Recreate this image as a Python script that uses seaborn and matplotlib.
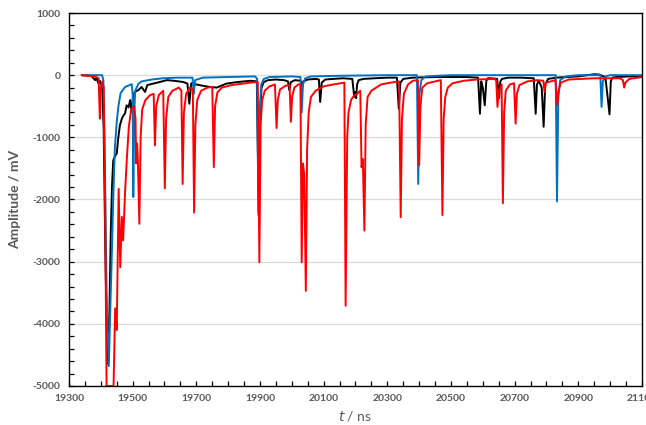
import matplotlib
matplotlib.use("Agg")
import matplotlib.pyplot as plt
import seaborn as sns
import pandas as pd
import numpy as np
from matplotlib.ticker import FixedLocator

# ---- data: (time ns, amplitude mV) ----
black_pts = [
    (19340, 0), (19370, -10), (19382, -80), (19386, -40), (19392, -130), (19397, -90),
    (19402, -160), (19405, -250), (19409, -900), (19414, -2800), (19419, -4200),
    (19423, -4650), (19427, -3800), (19431, -2600), (19435, -1800), (19439, -1370),
    (19445, -1300), (19450, -1260), (19455, -1000), (19460, -806), (19466, -700),
    (19471, -650), (19476, -615), (19481, -485), (19487, -520), (19492, -400),
    (19497, -590), (19502, -300), (19510, -260), (19518, -240), (19528, -190),
    (19539, -270), (19546, -160), (19565, -135), (19585, -110), (19607, -80),
    (19630, -90), (19659, -110), (19672, -135), (19678, -460), (19684, -130),
    (19700, -150), (19720, -170), (19743, -190), (19764, -200), (19795, -135),
    (19830, -110), (19870, -90), (19890, -100), (19896, -2200), (19900, -600),
    (19905, -200), (19912, -110), (19925, -80), (19950, -70), (19975, -80),
    (19988, -100), (19992, -240), (19997, -110), (20010, -80), (20028, -90),
    (20031, -250), (20036, -100), (20050, -70), (20075, -60), (20085, -70),
    (20089, -430), (20094, -120), (20105, -70), (20130, -60), (20160, -50),
    (20190, -60), (20196, -350), (20199, -270), (20202, -370), (20205, -150),
    (20210, -80), (20225, -60), (20260, -50), (20300, -40), (20330, -40),
    (20336, -540), (20341, -120), (20350, -60), (20380, -40), (20450, -30),
    (20550, -30), (20585, -40), (20591, -620), (20595, -100), (20600, -200),
    (20606, -485), (20611, -90), (20616, -50), (20625, -50), (20645, -60),
    (20651, -370), (20655, -100), (20660, -60), (20680, -40), (20720, -40),
    (20760, -50), (20766, -620), (20770, -150), (20776, -90), (20785, -200),
    (20791, -830), (20796, -150), (20805, -60), (20830, -40), (20900, -20),
    (20950, 15), (20965, 10), (20985, -30), (20998, -630), (21002, -100),
    (21007, -40), (21020, -30), (21060, -20), (21100, -20),
]

blue_pts = [
    (19340, 0), (19404, 0), (19408, -80), (19413, -1500), (19419, -3800),
    (19425, -4680), (19429, -3900), (19434, -2980), (19440, -1800), (19444, -1180),
    (19450, -750), (19455, -510), (19462, -290), (19476, -190), (19497, -145),
    (19500, -300), (19502, -1960), (19505, -600), (19508, -250), (19518, -140),
    (19528, -100), (19560, -70), (19595, -50), (19640, -40), (19688, -40),
    (19692, -300), (19696, -80), (19720, -40), (19800, -30), (19885, -20),
    (19891, -60), (19895, -2250), (19899, -600), (19904, -150), (19912, -60),
    (19930, -30), (20000, -20), (20027, -30), (20031, -600), (20035, -150),
    (20042, -50), (20060, -20), (20150, -10), (20300, 0), (20393, 0),
    (20397, -1750), (20401, -300), (20407, -80), (20420, -20), (20500, 0),
    (20700, 0), (20829, 0), (20833, -2030), (20837, -350), (20843, -80),
    (20860, -20), (20900, 0), (20969, 0), (20973, -510), (20977, -100),
    (20985, -20), (21000, 0), (21100, 0),
]

red_pts = [
    (19340, 0), (19380, -20), (19393, -50), (19397, -700), (19400, -200),
    (19405, -100), (19409, -200), (19413, -1800), (19418, -5000), (19440, -5000),
    (19445, -3750), (19450, -4100), (19453, -3000), (19456, -1830), (19461, -3090),
    (19466, -2280), (19470, -2660), (19476, -1900), (19482, -1320), (19488, -830),
    (19495, -560), (19505, -500), (19509, -700), (19511, -1420), (19514, -1100),
    (19516, -1300), (19521, -2390), (19525, -1000), (19530, -550), (19540, -400),
    (19555, -320), (19566, -300), (19570, -1130), (19574, -500), (19582, -320),
    (19596, -250), (19601, -1820), (19605, -700), (19612, -350), (19625, -250),
    (19645, -200), (19653, -250), (19657, -1750), (19661, -600), (19668, -300),
    (19680, -200), (19689, -220), (19693, -2210), (19697, -800), (19703, -400),
    (19715, -250), (19735, -200), (19750, -190), (19755, -1480), (19759, -500),
    (19766, -280), (19780, -200), (19810, -160), (19840, -140), (19870, -120),
    (19893, -110), (19898, -3010), (19902, -800), (19907, -400), (19915, -250),
    (19930, -180), (19947, -150), (19952, -850), (19956, -400), (19963, -230),
    (19980, -170), (19993, -160), (19997, -750), (20001, -350), (20008, -200),
    (20020, -150), (20027, -150), (20031, -3010), (20035, -1420), (20039, -1600),
    (20044, -3470), (20048, -1200), (20053, -600), (20060, -350), (20075, -250),
    (20100, -180), (20130, -150), (20165, -120), (20169, -3710), (20174, -1000),
    (20178, -600), (20186, -400), (20195, -330), (20205, -300), (20215, -250),
    (20219, -1480), (20223, -1350), (20228, -2500), (20232, -800), (20238, -350),
    (20250, -250), (20265, -200), (20280, -150), (20310, -120), (20337, -100),
    (20342, -2285), (20346, -700), (20352, -300), (20365, -150), (20380, -90),
    (20396, -80), (20400, -1450), (20404, -500), (20410, -200), (20425, -130),
    (20450, -100), (20468, -80), (20473, -2250), (20477, -700), (20482, -350),
    (20490, -200), (20505, -130), (20540, -90), (20580, -70), (20635, -60),
    (20642, -80), (20646, -510), (20650, -250), (20659, -150), (20663, -2060),
    (20667, -600), (20672, -250), (20685, -150), (20698, -130), (20703, -780),
    (20707, -300), (20715, -160), (20740, -100), (20770, -80), (20790, -90),
    (20794, -270), (20798, -120), (20828, -80), (20834, -480), (20838, -250),
    (20845, -120), (20870, -70), (20950, -50), (21030, -50), (21040, -80),
    (21044, -200), (21048, -120), (21060, -60), (21100, -30),
]

series_names = ["black", "blue", "red"]
series_colors = ["#000000", "#0070C0", "#FF0000"]
x_ticks = list(range(19300, 21101, 200))
y_ticks = list(range(-5000, 1001, 1000))

# ---- build table ----
frames = []
for name, pts in zip(series_names, [black_pts, blue_pts, red_pts]):
    d = pd.DataFrame(pts, columns=["t", "v"])
    d["series"] = name
    d["order"] = np.arange(len(d))
    frames.append(d)
df = pd.concat(frames, ignore_index=True)

sns.set_theme(style="white")
plt.rcParams["font.family"] = ["Lato", "DejaVu Sans"]
plt.rcParams["axes.unicode_minus"] = False

fig = plt.figure(figsize=(6.46, 4.25), dpi=100)
ax = fig.add_axes([0.1068, 0.0918, 0.8870, 0.8776])

for yv in y_ticks:
    ax.axhline(yv, color="#D9D9D9", lw=0.9, zorder=0)

sns.lineplot(data=df, x="t", y="v", hue="series", hue_order=series_names,
             palette=dict(zip(series_names, series_colors)), sort=False,
             estimator=None, units="series", legend=False, linewidth=1.4, ax=ax)

ax.set_xlim(19300, 21100)
ax.set_ylim(-5000, 1000)
ax.xaxis.set_major_locator(FixedLocator(x_ticks))
ax.xaxis.set_minor_locator(FixedLocator(list(range(19300, 21101, 50))))
ax.yaxis.set_major_locator(FixedLocator(y_ticks))
ax.yaxis.set_minor_locator(FixedLocator(list(range(-5000, 1001, 200))))
ax.tick_params(which="both", direction="in", length=3.5, width=0.9, color="black",
               bottom=True, left=True, top=False, right=False)
ax.tick_params(axis="both", which="major", labelsize=7.5, labelcolor="#595959", pad=6)
for lab in ax.get_xticklabels() + ax.get_yticklabels():
    lab.set_fontweight("bold")

for sp in ax.spines.values():
    sp.set_visible(True)
    sp.set_color("black")
    sp.set_linewidth(1.0)

ax.set_xlabel("$\\it{t}$ / ns", fontsize=10, color="#595959", labelpad=4)
ax.set_ylabel("Amplitude / mV", fontsize=10, color="#595959", fontweight="bold", labelpad=8)

fig.savefig("out.png", dpi=100)
